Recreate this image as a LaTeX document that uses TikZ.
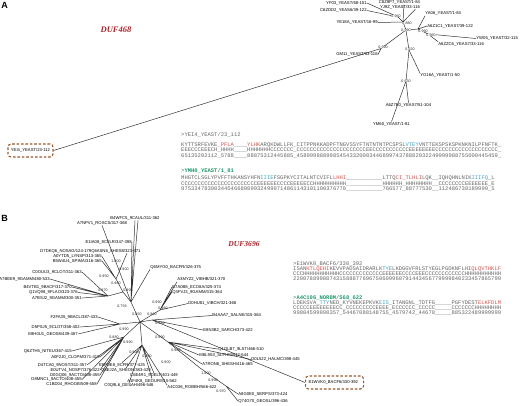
\documentclass[tikz,border=0pt]{standalone}
\usepackage{fontspec}
\setmainfont{Liberation Serif}
\newfontfamily\lab{Liberation Sans}
\newfontfamily\mono{Liberation Mono}
\definecolor{treeg}{HTML}{333333}
\definecolor{seqg}{HTML}{666666}
\definecolor{seqr}{HTML}{D9534F}
\definecolor{seqb}{HTML}{3FA7C9}
\definecolor{seqgr}{HTML}{1E9A6A}
\definecolor{dufr}{HTML}{B3202A}
\definecolor{boxc}{HTML}{9A5A30}
\newcommand\seqR[1]{\textcolor{seqr}{#1}}
\newcommand\seqB[1]{\textcolor{seqb}{#1}}
\begin{document}
\begin{tikzpicture}[x=1pt,y=-1pt,
  leaf/.style={font={\lab\fontsize{4.2}{5}\selectfont}, inner sep=0.2pt, text=black},
  bs/.style={font={\lab\fontsize{3.6}{4}\selectfont}, inner sep=0pt, text=black!85},
  br/.style={draw=treeg, line width=0.5pt},
  seq/.style={font={\mono\fontsize{5.5}{6}\selectfont}, inner sep=0pt, anchor=base west, text=seqg},
  hlbox/.style={leaf, draw=boxc, dash pattern=on 2.6pt off 1.8pt, line width=1.1pt, rounded corners=3pt, fill=white, minimum height=13pt},
  duf/.style={font={\bfseries\itshape\fontsize{8.5}{10}\selectfont}, text=dufr, inner sep=0pt},
  panel/.style={font={\lab\bfseries\fontsize{9}{10}\selectfont}, inner sep=0pt}]
\useasboundingbox (0,0) rectangle (520,405);
\fill[white] (0,0) rectangle (520,405);

% ---------------- Panel A ----------------
\node[panel] (pA) at (4.5,5.5) {A};
\node[duf] (dufA) at (116,29.5) {DUF468};

\coordinate (cA) at (406,30);
\coordinate (nU) at (403,22);
\coordinate (nUL) at (398,17);
\coordinate (nR) at (418,29);
\coordinate (nR2) at (428,34);
\coordinate (nL) at (381,48.5);
\coordinate (nD) at (409,50);
\coordinate (nD2) at (406,81);

\node[leaf,anchor=east] (YF03) at (367,3) {YF03\_YEAST/68-151};
\node[leaf] (C8Z9P7) at (399.5,2.5) {C8Z9P7\_YEAST/1-84};
\node[leaf] (YJ9Z) at (400,7) {YJ9Z\_YEAST/33-116};
\node[leaf,anchor=east] (C6ZDD2) at (367,10.5) {C6ZDD2\_YEAS6/39-122};
\node[leaf,anchor=east] (YE18A) at (378,22.5) {YE18A\_YEAST/16-99};
\node[leaf,anchor=west] (YA06) at (425,13.5) {YA06\_YEAST/1-84};
\node[leaf,anchor=west] (A6Z1C1) at (427,26) {A6Z1C1\_YEAS7/39-122};
\node[leaf,anchor=west] (YW05) at (476,38.5) {YW05\_YEAST/32-115};
\node[leaf,anchor=west] (A6ZZC6) at (438,44) {A6ZZC6\_YEAS7/33-116};
\node[leaf,anchor=east] (GM11) at (378,54.5) {GM11\_YEAST/33-116};
\node[leaf,anchor=west] (YO16A) at (420,75.5) {YO16A\_YEAST/1-50};
\node[leaf] (A6Z7E0) at (408.5,105) {A6Z7E0\_YEAS7/51-104};
\node[leaf] (YM60) at (391.5,124) {YM60\_YEAST/1-81};
\node[hlbox, minimum width=45pt, inner xsep=1.5pt] (boxA) at (30.5,150.5) {YEI4\_YEAST/23-112};

\draw[br] (cA) -- (nU) (nU) -- (nUL) (cA) -- (nR) (nR) -- (nR2) (cA) -- (nL) (cA) -- (nD) (nD) -- (nD2);
\draw[br] (nUL) -- (YF03.east) (nUL) -- (C6ZDD2.east);
\draw[br] (nU) -- ([xshift=4.5pt]C8Z9P7.south) (nU) -- ([xshift=-5pt]YJ9Z.south east) (nU) -- (YE18A.east);
\draw[br] (nR) -- (YA06.south west) (nR) -- (A6Z1C1.west);
\draw[br] (nR2) -- (YW05.west) (nR2) -- (A6ZZC6.north west);
\draw[br] (nL) -- (GM11.east) (nL) -- (boxA.east);
\draw[br] (nD) -- (YO16A.north west);
\draw[br] (nD2) -- (A6Z7E0.north) (nD2) -- (YM60.north);

\foreach \x/\y/\t [count=\i] in {396/16/0.960, 407/23/0.880, 406/30/0.990, 423/31/0.990, 431/35/0.960, 383/47/0.990, 410/49/0.620, 406/81/0.630}
  \node[bs, fill=white, inner sep=0.2pt] (bsA\i) at (\x,\y) {\t};

% sequences A
\node[seq] (sA1) at (181,136.6) {>YEI4\_YEAST/23\_112};
\node[seq] (sA2) at (181,146.2) {KYTTSRFEVKE\_\seqR{PFLA}\_\_\_\_\seqR{YLHK}ARQKDWLLFK\_CITPPNKKADPFTNGVSSYFTNTNTNTPCSPSL\seqB{VTEY}VNTTEKSPSKSPKNKNILPFNFTK\_};
\node[seq] (sA3) at (181,151.9) {EEECCCEEECH\_HHHH\_\_\_\_HHHHHHHCCCCCCC\_CCCCCCCCCCCCCCCCCCCCCEECCCCCCCCCCCEEEEEEEECCCCCCCCCCCCCCCCCCC\_};
\node[seq] (sA4) at (181,157.5) {65135202112\_5788\_\_\_\_88875312445885\_4589998889985454332000344689974378882032249999988755000445459\_};
\node[seq] (sA5) at (181,172.3) {>\textcolor{seqgr}{\bfseries YMH0\_YEAST/1\_81}};
\node[seq] (sA6) at (181,179.3) {MHGTCLSGLYPVFFTHKANSYHFN\seqB{IIIE}FSGPKYCITALNTCVIFL\seqR{LHHI}\_\_\_\_\_\_\_\_\_\_\_LTTQ\seqR{CI\_TLHLI}LQK\_\_IQHQHNLNIK\seqB{IIIFQ}\_L};
\node[seq] (sA7) at (181,185.0) {CCCCCCCCCCCCCCCCCCCCCCCEEEEEECCCCEEEEECCHHHHHHHHHH\_\_\_\_\_\_\_\_\_\_\_HHHHHH\_HHHHHHHH\_\_CCCCCCCCEEEEEEE\_E};
\node[seq] (sA8) at (181,190.6) {97533478300344546689899324999714861143101100376778\_\_\_\_\_\_\_\_\_\_\_766577\_88777530\_\_112486730189999\_5};

% ---------------- Panel B ----------------
\node[panel] (pB) at (4.5,218) {B};
\node[duf, font={\bfseries\itshape\fontsize{7.6}{9}\selectfont}] (dufB) at (244,243.7) {DUF3696};

\coordinate (c0) at (140,322);
\coordinate (u1) at (131,302);
\coordinate (u2) at (123,292);
\coordinate (u3) at (108,296);
\coordinate (u4) at (116,279);
\coordinate (r1) at (160,310);
\coordinate (r2) at (152,320);
\coordinate (l1) at (120,324);
\coordinate (l3) at (124,337);
\coordinate (b1) at (142,345);
\coordinate (r3) at (168,342);
\coordinate (r4) at (200,368);
\coordinate (r5) at (226,386);

\node[leaf] (B4WFC5) at (135,218) {B4WFC5\_9CAUL/311-362};
\node[leaf] (A7NPV1) at (102,223) {A7NPV1\_ROSCS/317-368};
\node[leaf,anchor=east] (E1IA08) at (132,242) {E1IA08\_9CFLR/347-398};
\node[leaf,anchor=west] (D7DKQ6) at (40,251) {D7DKQ6\_NOSAG/124-179Q6ASN6\_SHES8/323-371};
\node[leaf,anchor=east] (A0YTD5) at (102,256.5) {A0YTD5\_LYNSP/313-365};
\node[leaf,anchor=east] (B5W4U4) at (102,261) {B5W4U4\_SPIMA/316-365};
\node[leaf,anchor=east] (C0OUU3) at (82,272) {C0OUU3\_9CLOT/311-363};
\node[leaf,anchor=east] (A7BEE9) at (50,279) {A7BEE9\_9GAMM/480-533};
\node[leaf,anchor=east] (B4VTB1) at (72,287) {B4VTB1\_9BACF/317-370};
\node[leaf,anchor=east] (Q1VQ98) at (78,292.5) {Q1VQ98\_9FLAO/323-376};
\node[leaf,anchor=east] (A7BSJ2) at (82,298) {A7BSJ2\_9GAMM/300-351};
\node[leaf,anchor=east] (F2FA35) at (98,317) {F2FA35\_9BACL/387-433};
\node[leaf,anchor=east] (D5PSJ5) at (80,327) {D5PSJ5\_9CLOT/358-402};
\node[leaf,anchor=east] (E8H0U1) at (78,334) {E8H0U1\_GEOS8/439-487};
\node[leaf,anchor=east] (Q6ZTH5) at (72,351) {Q6ZTH5\_NITEU/367-415};
\node[leaf,anchor=east] (A0F2J0) at (100,357) {A0F2J0\_CLOPM/371-419};
\node[leaf,anchor=east] (D4TCA0) at (87,365) {D4TCA0\_9NOST/311-357};
\node[leaf,anchor=east] (E0UTV4) at (100,370) {E0UTV4\_NOSP7/376-422};
\node[leaf,anchor=east] (D0GQ06) at (100,375) {D0GQ06\_9ACTO/408-455};
\node[leaf,anchor=east] (D8MNC1) at (82,379.5) {D8MNC1\_9ACTO/408-455};
\node[leaf,anchor=east] (C1BD04) at (97,384) {C1BD04\_RHOOB/509-558};

\node[leaf] (E8PDE8) at (122,365) {E8PDE8\_9CFR/377-425};
\node[leaf] (Q8EJ2A) at (126,370.5) {Q8EJ2A\_SHEON/383-429};
\node[leaf] (C6E4R1) at (154,375.5) {C6E4R1\_9DELT/401-449};
\node[leaf] (A1F4K8) at (152,381) {A1F4K8\_GEOUR/515-562};
\node[leaf] (C0Q9L6) at (129,385.5) {C0Q9L6\_DESAH/496-546};
\node[leaf] (A4C036) at (192,387.5) {A4C036\_ROBBH/566-622};

\node[leaf,anchor=west] (Q6MYG0) at (150,267) {Q6MYG0\_BACFR/326-375};
\node[leaf,anchor=west] (A3MYZ2) at (177,279.5) {A3MYZ2\_VIBHB/321-370};
\node[leaf,anchor=west] (B7A0B8) at (172,287) {B7A0B8\_ECO8A/325-374};
\node[leaf,anchor=west] (Q3FVJ3) at (172,292) {Q3FVJ3\_9GAMM/315-364};
\node[leaf,anchor=west] (D0HU81) at (188,303.5) {D0HU81\_VIBCH/321-368};
\node[leaf,anchor=west] (B4AAA7) at (212,315.5) {B4AAA7\_SALNE/315-364};
\node[leaf,anchor=west] (E8N3B2) at (203,330) {E8N3B2\_SARCH/373-422};
\node[leaf,anchor=west] (Q1OLB7) at (218,349) {Q1OLB7\_9LST/466-510};
\node[leaf,anchor=west] (M8L9S3) at (199,355) {M8L9S3\_SLPHM/512-544};
\node[leaf,anchor=west] (D0L522) at (251,359.5) {D0L522\_HALMC/398-445};
\node[leaf,anchor=west] (A7RON6) at (202,364) {A7RON6\_SHESH/416-465};
\node[leaf,anchor=west] (A8G0E0) at (238,394) {A8G0E0\_SERPS/373-424};
\node[leaf,anchor=west] (Q74G70) at (238,401) {Q74G70\_GEOSL/396-436};
\node[hlbox, anchor=west, text width=52pt, align=left, inner xsep=3pt] (boxB) at (305,382.5) {E1WVK0\_BACF6/330-392};

\draw[br] (c0) -- (u1) (u1) -- (u2) (u2) -- (u3) (u2) -- (u4) (c0) -- (r1) (c0) -- (r2)
  (c0) -- (l1) (c0) -- (l3) (c0) -- (b1) (c0) -- (r3) (r3) -- (r4) (r4) -- (r5);
\draw[br] (u1) -- (B4WFC5.south) (u1) -- ([xshift=3pt]B4WFC5.south) (u1) -- (A7NPV1.south)
  (u1) -- (E1IA08.east) (u1) -- (Q6MYG0.south west);
\draw[br] (u4) -- ([xshift=-14pt]D7DKQ6.south east) (u4) -- (A0YTD5.east) (u4) -- (B5W4U4.east);
\draw[br] (u3) -- (C0OUU3.east) (u3) -- (A7BEE9.east) (u3) -- (B4VTB1.east) (u3) -- (Q1VQ98.east) (u3) -- (A7BSJ2.east);
\draw[br] (l1) -- (F2FA35.east) (l1) -- (D5PSJ5.east) (l1) -- (E8H0U1.east);
\draw[br] (l3) -- (Q6ZTH5.east) (l3) -- (A0F2J0.east) (l3) -- (D4TCA0.east) (l3) -- (E0UTV4.east)
  (l3) -- (D0GQ06.east) (l3) -- (D8MNC1.east) (l3) -- (C1BD04.east);
\draw[br] (b1) -- (E8PDE8.north) (b1) -- (Q8EJ2A.north) (b1) -- (C6E4R1.north) (b1) -- (A1F4K8.north)
  (b1) -- (C0Q9L6.north) (b1) -- (A4C036.north west);
\draw[br] (r1) -- (A3MYZ2.south west) (r1) -- (B7A0B8.west) (r1) -- (Q3FVJ3.west) (r1) -- (D0HU81.west);
\draw[br] (r2) -- (B4AAA7.west) (r2) -- (E8N3B2.west) (r2) -- (boxB.west);
\draw[br] (r3) -- (Q1OLB7.west) (r3) -- (M8L9S3.west) (r3) -- (D0L522.west) (r3) -- (A7RON6.west);
\draw[br] (r5) -- (A8G0E0.west) (r5) -- (Q74G70.west);

\foreach \x/\y/\t [count=\i] in {137/314/0.850, 122/306/0.759, 128/290/0.995, 116/261/1.000, 104/276/0.950,
  116/283/0.980, 124/269/0.900, 103/290/0.970, 157/302/0.990, 163/308/0.960, 152/314/0.990, 160/323/0.980,
  124/329/0.990, 114/337/0.880, 128/342/0.990, 134/352/0.900, 147/356/0.990, 166/362/0.900, 160/337/0.990,
  176/350/0.980, 206/373/1.000, 213/380/0.990, 221/391/0.970}
  \node[bs] (bsB\i) at (\x,\y) {\t};

% sequences B
\node[seq] (sB1) at (293,265.6) {>E1WVK0\_BACF6/330\_392};
\node[seq] (sB2) at (293,270.8) {ISAN\seqR{KTLQEHI}KEVVPADSAIDRARLK\seqB{TYE}LKDGGVFRLSTYEGLPGDKNFLHI\seqR{QLQVTHKLF}};
\node[seq] (sB3) at (293,275.6) {CCCHHHHHHHHHHHCCCCCCCCCCCCCEEEEEECCCCEEECCCCCCCCCCCCHHHHHHHHHHH};
\node[seq] (sB4) at (293,280.4) {220078899887431588877696750609960791443456779999840233457865799};
\node[seq] (sB5) at (293,299.4) {>\textcolor{seqgr}{\bfseries A4C196\_NORBM/568\_622}};
\node[seq] (sB6) at (293,304.6) {LDEKSVA\_\seqB{TTY}NED\_KYVNEKEPKVK\seqB{EIS}\_ITANGNL\_TDTFG\_\_\_\_\_PGFYDEST\seqR{ELKFDLM}};
\node[seq] (sB7) at (293,309.6) {CCCCCEEEEEEEECC\_CCCCCCCCCEEEE\_ECCCCCC\_CCCCC\_\_\_\_\_CCCCCCCHHHHHHHH};
\node[seq] (sB8) at (293,314.6) {99804599998357\_54467088148755\_4579742\_44678\_\_\_\_\_885322489999999};
\end{tikzpicture}
\end{document}
